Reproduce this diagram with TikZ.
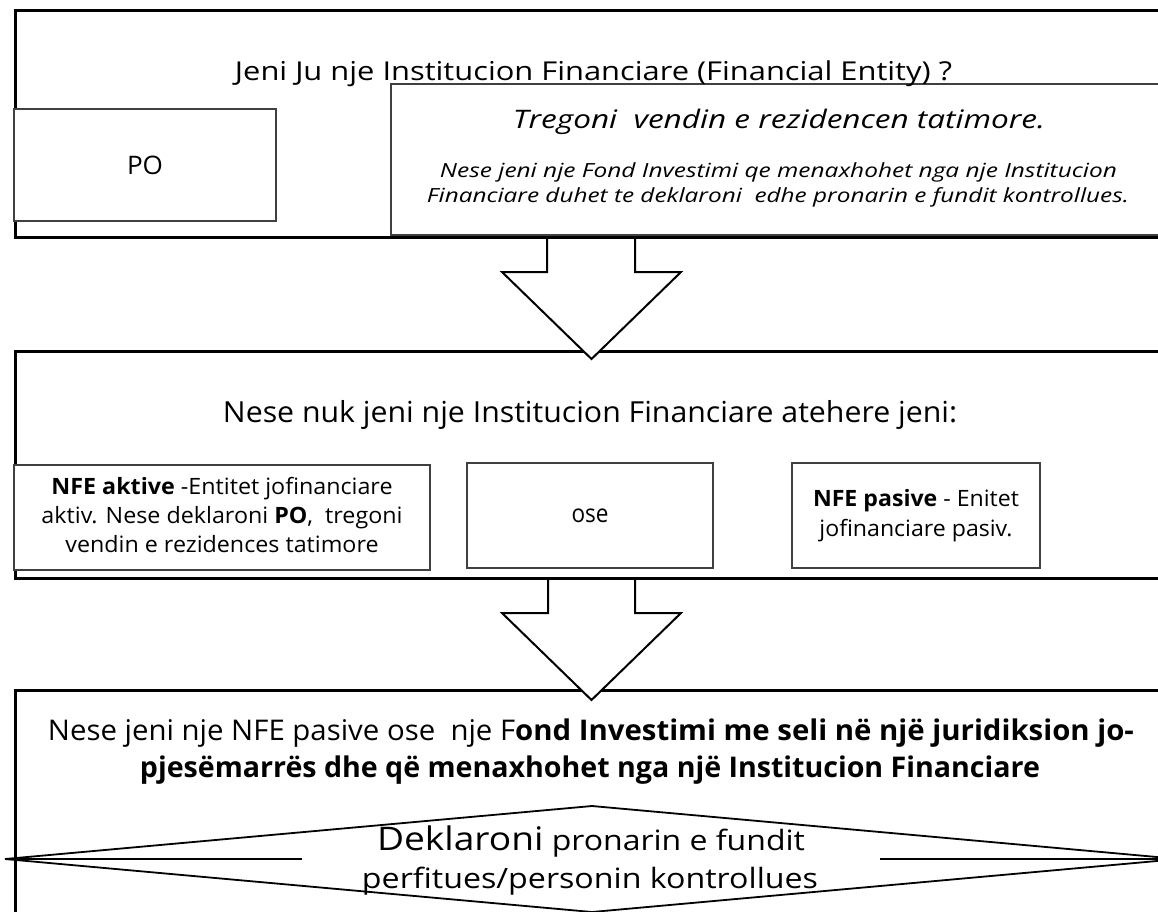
\documentclass[tikz,border=0pt]{standalone}
\usepackage{fontspec}
\setmainfont{Open Sans}
\usepackage{graphicx}
\newcommand{\fitw}[2]{\resizebox{#1pt}{\height}{#2}}
\definecolor{boxgray}{HTML}{404040}
\tikzset{
  outerbox/.style={draw=black, line width=2.5pt, fill=white},
  innerbox/.style={draw=boxgray, line width=2pt, fill=white, inner sep=0pt, outer sep=0pt, align=center},
  blockarrow/.style={draw=black, line width=2pt, fill=white, line join=miter},
  txt/.style={inner sep=0pt, outer sep=0pt, anchor=base},
  decision/.style={draw=black, line width=1.8pt},
}
\begin{document}
\begin{tikzpicture}[x=1pt,y=-1pt]
\useasboundingbox (0,0) rectangle (1158,911);
\clip (0,0) rectangle (1158,911);
\fill[white] (0,0) rectangle (1158,911);

% ---------- bottom section ----------
\node[outerbox, anchor=north west, minimum width=1161pt, minimum height=280pt, inner sep=0pt] (botbox) at (14,689) {};
\coordinate (dl) at (5,859);
\coordinate (dt) at (592,806);
\coordinate (dr) at (1179,859);
\coordinate (db) at (592,912);
\draw[decision] (dl) -- (dt) -- (dr) -- (db) -- cycle;
\coordinate (hl) at (302,859);
\coordinate (hr) at (880,859);
\draw[decision] (dl) -- (hl);
\draw[decision] (hr) -- (dr);
\node[txt, font=\fontsize{28.5}{34}\selectfont] (b1) at (591,740)
  {\fitw{1086}{Nese jeni nje NFE pasive ose\ \ nje F\textbf{ond Investimi me seli në një juridiksion jo-}}};
\node[txt, font=\fontsize{28.5}{34}\selectfont] (b2) at (590,777)
  {\fitw{900}{\textbf{pjesëmarrës dhe që menaxhohet nga një Institucion Financiare}}};
\node[txt, font=\fontsize{28}{34}\selectfont] (d1) at (591,850)
  {\fitw{428}{{\fontsize{32.5}{38}\selectfont Deklaroni} pronarin e fundit}};
\node[txt, font=\fontsize{28}{34}\selectfont] (d2) at (590,888)
  {\fitw{456}{perfitues/personin kontrollues}};

% ---------- arrow 2 ----------
\coordinate (a2) at (591.5,577);
\draw[blockarrow] ([xshift=-43.5pt]a2) -- ++(0,36) -- ++(-46,0) -- (591.5,700) -- (681,613) -- (635,613) -- ([xshift=43.5pt]a2);

% ---------- middle section ----------
\node[outerbox, anchor=north west, minimum width=1161pt, minimum height=227pt, inner sep=0pt] (midbox) at (14,350) {};
\node[txt, font=\fontsize{29}{34}\selectfont] (midtitle) at (590,422)
  {\fitw{734}{Nese nuk jeni nje Institucion Financiare atehere jeni:}};
\node[innerbox, minimum width=416pt, minimum height=105pt, font=\fontsize{22.5}{29}\selectfont] (aktive) at (222,517.5)
  {\fitw{361}{\begin{tabular}{@{}c@{}}\textbf{NFE aktive} -Entitet jofinanciare\\ aktiv. Nese deklaroni \textbf{PO},\ \ tregoni\\ vendin e rezidences tatimore\end{tabular}}};
\node[innerbox, minimum width=246pt, minimum height=105pt, font=\fontsize{25}{29}\selectfont] (ose) at (590,515.5)
  {\fitw{37}{ose}};
\node[innerbox, minimum width=248pt, minimum height=105pt, font=\fontsize{22.5}{30}\selectfont] (pasive) at (916,515.5)
  {\fitw{206}{\begin{tabular}{@{}c@{}}\textbf{NFE pasive} - Enitet\\ jofinanciare pasiv.\end{tabular}}};

% ---------- arrow 1 ----------
\coordinate (a1) at (591,236);
\draw[blockarrow] ([xshift=-44pt]a1) -- ++(0,36) -- ++(-45,0) -- (591.5,359) -- (681,272) -- (635,272) -- ([xshift=44pt]a1);

% ---------- top section ----------
\node[outerbox, anchor=north west, minimum width=1161pt, minimum height=227pt, inner sep=0pt] (topbox) at (14,9) {};
\node[innerbox, minimum width=262pt, minimum height=112pt, font=\fontsize{25.5}{30}\selectfont] (po) at (145,165) {\fitw{36}{PO}};
\node[innerbox, anchor=north west, minimum width=784pt, minimum height=151pt] (tregbox) at (391,84) {};
\node[txt, font=\fontsize{26}{30}\selectfont] (title) at (593.5,80)
  {\fitw{717}{Jeni Ju nje Institucion Financiare (Financial Entity) ?}};
\node[txt, font=\itshape\fontsize{25.5}{30}\selectfont] (treg) at (779,128)
  {\fitw{532}{Tregoni \ vendin e rezidencen tatimore.}};
\node[txt, font=\itshape\fontsize{19.5}{25}\selectfont] (sub1) at (778.5,177)
  {\fitw{677}{Nese jeni nje Fond Investimi qe menaxhohet nga nje Institucion}};
\node[txt, font=\itshape\fontsize{19.5}{25}\selectfont] (sub2) at (778,202)
  {\fitw{702}{Financiare duhet te deklaroni \ edhe pronarin e fundit kontrollues.}};
\end{tikzpicture}
\end{document}
